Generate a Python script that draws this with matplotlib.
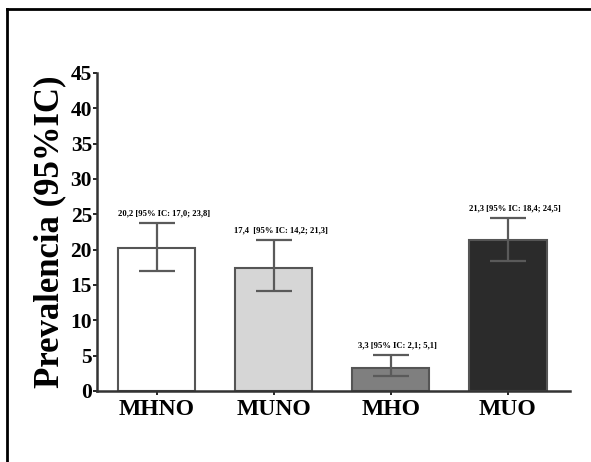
import numpy as np
import matplotlib
matplotlib.use('Agg')
import matplotlib.pyplot as plt
from matplotlib.lines import Line2D

groups = ['MHNO', 'MUNO', 'MHO', 'MUO']
prev = [20.2, 17.4, 3.3, 21.3]
ci_low = [17.0, 14.2, 2.1, 18.4]
ci_high = [23.8, 21.3, 5.1, 24.5]
notes = ['20,2 [95% IC: 17,0; 23,8]', '17,4  [95% IC: 14,2; 21,3]',
         '3,3 [95% IC: 2,1; 5,1]', '21,3 [95% IC: 18,4; 24,5]']
colors = ['#ffffff', '#d6d6d6', '#7f7f7f', '#2b2b2b']

plt.rcParams['font.family'] = ['Liberation Serif', 'DejaVu Serif']

fig = plt.figure(figsize=(5.91, 4.62), dpi=100)
ax = fig.add_axes([0.164, 0.1537, 0.8005, 0.6883])

x = np.arange(len(groups))
y = np.array(prev)
err = np.array([y - np.array(ci_low), np.array(ci_high) - y])

ax.bar(x, y, width=0.66, color=colors, edgecolor='#555555', linewidth=1.5, zorder=2)
ax.errorbar(x, y, yerr=err, fmt='none', ecolor='#5a5a5a', elinewidth=1.6,
            capsize=13, capthick=1.6, zorder=3)

for xi, hi, t in zip(x, ci_high, notes):
    ax.annotate(t, (xi, hi), xytext=(5, 4), textcoords='offset points',
                ha='center', va='bottom', fontsize=6.2, fontweight='bold')

ax.set_xlim(-0.51, 3.53)
ax.set_ylim(0, 45)
ax.set_yticks(range(0, 46, 5))
ax.set_xticks(x)
ax.set_xticklabels(groups, fontsize=17, fontweight='bold')
for lab in ax.get_yticklabels():
    lab.set_fontweight('bold')
    lab.set_fontsize(15.5)
ax.tick_params(axis='y', length=3, width=1.2, pad=0.5)
ax.tick_params(axis='x', length=3, width=1.2, pad=3)
ax.spines['top'].set_visible(False)
ax.spines['right'].set_visible(False)
ax.spines['left'].set_linewidth(1.8)
ax.spines['bottom'].set_linewidth(1.8)
ax.spines['left'].set_color('#333333')
ax.spines['bottom'].set_color('#333333')
ax.set_ylabel('Prevalencia (95%IC)', fontsize=25, fontweight='bold', labelpad=3)

# frame of the original figure (only top and left edges visible)
fig.add_artist(Line2D([7/591, 1.0], [1 - 9/462, 1 - 9/462], transform=fig.transFigure,
                      color='black', linewidth=2))
fig.add_artist(Line2D([7/591, 7/591], [0.0, 1 - 9/462], transform=fig.transFigure,
                      color='black', linewidth=2))

plt.savefig('out.png', dpi=100)
